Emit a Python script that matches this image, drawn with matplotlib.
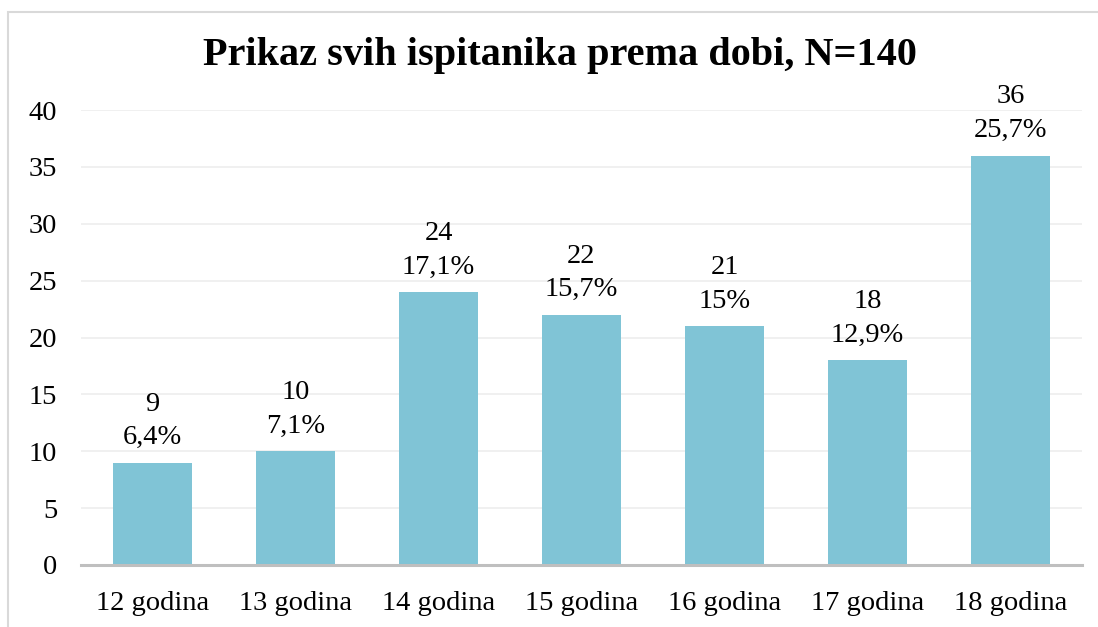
import matplotlib
matplotlib.use("Agg")
import matplotlib.pyplot as plt
from matplotlib.patches import Rectangle

categories = ["12 godina", "13 godina", "14 godina", "15 godina", "16 godina", "17 godina", "18 godina"]
counts = [9, 10, 24, 22, 21, 18, 36]
percents = ["6,4%", "7,1%", "17,1%", "15,7%", "15%", "12,9%", "25,7%"]
yticks = [0, 5, 10, 15, 20, 25, 30, 35, 40]
title = "Prikaz svih ispitanika prema dobi, N=140"

plt.rcParams['font.family'] = ['Liberation Serif', 'DejaVu Serif']

W, H = 1098, 627
fig = plt.figure(figsize=(W / 100, H / 100), dpi=100)
fig.patch.set_facecolor("white")

# outer chart frame
fig.patches.append(Rectangle((8 / W, -0.1), 1.2, (H - 12) / H + 0.1, transform=fig.transFigure,
                             fill=False, edgecolor="#d9d9d9", linewidth=1.5))

left, right = 81 / W, 1082 / W
bottom, top = (H - 565) / H, (H - 110) / H
ax = fig.add_axes([left, bottom, right - left, top - bottom])

x = list(range(len(categories)))
ax.bar(x, counts, width=0.55, color="#80c4d6", zorder=2)
ax.set_xlim(-0.5, len(categories) - 0.5)
ax.set_ylim(0, 40)
ax.set_yticks(yticks)
ax.set_yticklabels([str(t) for t in yticks], fontsize=20.5)
ax.set_xticks(x)
ax.set_xticklabels(categories, fontsize=20.5)
ax.tick_params(axis="both", length=0)
ax.tick_params(axis="x", pad=19)
ax.tick_params(axis="y", pad=17)
ax.yaxis.grid(True, color="#eeeeee", linewidth=1.2, zorder=0)
for s in ["top", "right", "left"]:
    ax.spines[s].set_visible(False)
ax.spines["bottom"].set_color("#bfbfbf")
ax.spines["bottom"].set_linewidth(2.2)
ax.spines["bottom"].set_zorder(3)

for xi, c, p in zip(x, counts, percents):
    ax.annotate(f"{c}\n{p}", xy=(xi, c), xytext=(0, 9), textcoords="offset points",
                ha="center", va="bottom", fontsize=20.5, linespacing=1.45, color="#000000",
                clip_on=False)

fig.text(560 / W, (H - 55) / H, title, ha="center", va="center", fontsize=29, fontweight="bold")

fig.savefig("out.png", dpi=100, facecolor="white")
